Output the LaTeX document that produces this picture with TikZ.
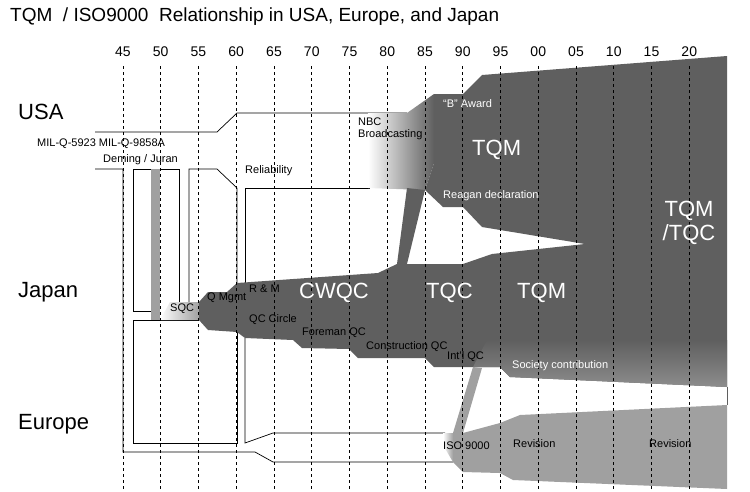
\documentclass[tikz,border=0pt]{standalone}
\usepackage{fontspec}
\setmainfont{Liberation Sans}
\begin{document}
\begin{tikzpicture}[x=1pt,y=-1pt,
  lbl/.style={inner sep=0pt,anchor=west,font=\fontsize{11}{12}\selectfont},
  wlbl/.style={lbl,text=white},
  big/.style={inner sep=0pt,anchor=west,font=\fontsize{22}{24}\selectfont,text=white},
  region/.style={inner sep=0pt,anchor=west,font=\fontsize{22}{24}\selectfont},
  yr/.style={inner sep=0pt,font=\fontsize{14}{15}\selectfont},
  ol/.style={draw=black,line width=0.7pt}]
\definecolor{dk}{HTML}{5F5F5F}
\definecolor{lt}{HTML}{A0A0A0}
\useasboundingbox (0,0) rectangle (750,491);
\fill[white] (0,0) rectangle (750,491);
% outline lines
\draw[ol] (95,132)--(217,132)--(237,113)--(407,113);
\draw[ol] (95,169)--(123,169)--(123,452)--(255,452)--(273,462)--(453,462);
\draw[ol] (151,311)--(133,311)--(133,169)--(179,169)--(179,302);
\draw[ol] (189,302)--(189,169)--(217,169)--(237,188)--(237,285);
\draw[ol] (133,320)--(199,320);
\draw[ol] (133,320)--(133,443)--(237,443)--(237,330);
\draw[ol] (245,283)--(245,188)--(370,188);
\draw[ol] (245,338)--(245,443)--(273,433)--(445,433);
% gray bar
\fill[lt] (151,169) rectangle (160,320);
% SQC gradient
\shade[left color=white,right color=lt] (160,320)--(170,302)--(199,302)--(199,320)--cycle;
% USA gradient
\shade[left color=white,right color=dk] (368,113)--(407,113)--(434,94)--(434,163)--(425,190)--(368,188)--cycle;
% main dark
\fill[dk] (434,94)--(463,94)--(482,75)--(727,56)--(727,387)--(510,377)--(500,367)--(434,367)--(425,358)--(358,358)--(349,349)--(302,348)--(293,340)--(245,338)--(237,332)--(208,330)--(199,320)--(199,302)--(208,292)--(227,292)--(237,283)--(378,273)--(397,264)--(463,264)--(492,254)--(585,244)--(482,227)--(463,207)--(443,207)--(425,190)--(434,163)--cycle;
\fill[dk] (397,264)--(407,188)--(425,190)--(407,264)--cycle;
% society gradient
\shade[top color=dk,bottom color=lt!70!dk] (487,340)--(727,340)--(727,387)--(510,377)--(500,367)--(473,367)--cycle;
\draw[line width=0.5pt,dk] (727,387)--(727,405);
% Int'l strip
\fill[lt] (473,367)--(482,368)--(463,433)--(453,433)--cycle;
% Europe
\fill[lt] (452,433)--(463,433)--(500,423)--(520,415)--(727,405)--(727,489)--(513,480)--(500,473)--(463,472)--(453,462)--cycle;
\shade[left color=white,right color=lt] (443,433)--(453,433)--(453,462)--(443,445)--cycle;
% dashed grid
\foreach \i/\l in {0/45,1/50,2/55,3/60,4/65,5/70,6/75,7/80,8/85,9/90,10/95,11/00,12/05,13/10,14/15,15/20}{
  \draw[dashed,line width=0.6pt] (123+37.75*\i,66)--(123+37.75*\i,491);
  \node[yr] (y\i) at (123+37.75*\i,52) {\l};
}
% texts
\node[inner sep=0pt,anchor=west,font=\fontsize{19}{20}\selectfont] (title) at (10,17) {TQM ~/ ISO9000 ~Relationship in USA, Europe, and Japan};
\node[region] (usa) at (18,112) {USA};
\node[region] (jp) at (18,292) {Japan};
\node[region] (eu) at (18,424) {Europe};
\node[lbl] (mil) at (37,144) {MIL-Q-5923 MIL-Q-9858A};
\node[lbl] (dj) at (103,160) {Deming / Juran};
\node[lbl] (rel) at (245,171) {Reliability};
\node[lbl,align=left,anchor=north west] (nbc) at (358,118) {NBC\\Broadcasting};
\node[wlbl] (ba) at (443,104) {“B” Award};
\node[big] (tqm1) at (472,150) {TQM};
\node[wlbl] (rd) at (443,196) {Reagan declaration};
\node[big,align=center,anchor=center] (tqmtqc) at (689,223) {TQM\\/TQC};
\node[big] (cwqc) at (299,293) {CWQC};
\node[big] (tqc) at (426,293) {TQC};
\node[big] (tqm2) at (517,293) {TQM};
\node[lbl] (rm) at (249,289) {R \& M};
\node[lbl] (qm) at (207,298) {Q Mgmt};
\node[lbl] (sqc) at (170,309) {SQC};
\node[lbl] (qcc) at (249,320) {QC Circle};
\node[lbl] (fqc) at (302,333) {Foreman QC};
\node[lbl] (cqc) at (366,347) {Construction QC};
\node[lbl] (iqc) at (447,357) {Int'l QC};
\node[wlbl] (sc) at (512,366) {Society contribution};
\node[lbl] (iso) at (443,446) {ISO 9000};
\node[lbl] (rv1) at (513,444) {Revision};
\node[lbl] (rv2) at (649,444) {Revision};
\end{tikzpicture}
\end{document}
